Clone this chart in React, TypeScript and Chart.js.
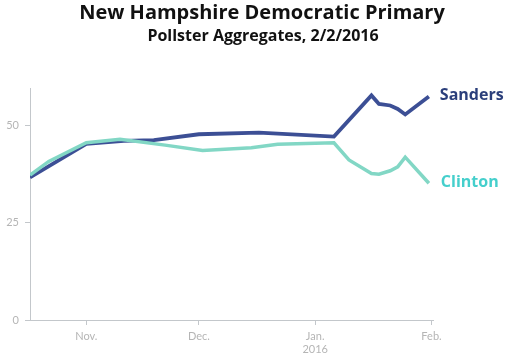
import React, { useEffect, useRef } from "react";
import { Chart, registerables } from "chart.js";

Chart.register(...registerables);

// Days counted from Oct 1, 2015 (day 0)
const sandersDays = [16, 31, 41, 49, 61, 77, 97, 107, 109, 112, 114, 116, 122.3];
const sandersValues = [36.7, 45.3, 46.1, 46.3, 47.8, 48.2, 47.2, 57.8, 55.6, 55.2, 54.3, 52.9, 57.5];

const clintonDays = [16, 21, 31, 40, 52, 62, 75, 82, 97, 101, 107, 109, 112, 114, 116, 122.3];
const clintonValues = [37.3, 40.8, 45.6, 46.5, 45.0, 43.6, 44.3, 45.2, 45.6, 41.2, 37.7, 37.5, 38.4, 39.4, 41.9, 35.2];

const xTickDays = [31, 61, 92, 123];
const xTickLabels: (string | string[])[] = ["Nov.", "Dec.", ["Jan.", "2016"], "Feb."];
const yTickValues = [0, 25, 50];

const titleText = "New Hampshire Democratic Primary";
const subtitleText = "Pollster Aggregates, 2/2/2016";

const SANDERS_LINE = "#3c4f95";
const CLINTON_LINE = "#82d7c5";
const SANDERS_TEXT = "#2b3f7b";
const CLINTON_TEXT = "#45cfcc";

export default function App() {
  const canvasRef = useRef<HTMLCanvasElement | null>(null);

  useEffect(() => {
    document.body.style.margin = "0";
    const canvas = canvasRef.current;
    if (!canvas) return;

    const textPlugin = {
      id: "texts",
      afterDraw(chart: any) {
        const ctx = chart.ctx;
        ctx.save();
        ctx.textAlign = "center";
        ctx.textBaseline = "middle";
        ctx.fillStyle = "#111";
        ctx.font = "bold 20px 'Open Sans'";
        ctx.fillText(titleText, 262, 13);
        ctx.font = "bold 16px 'Open Sans'";
        ctx.fillText(subtitleText, 263, 36);

        const xs = chart.scales.x;
        const ys = chart.scales.y;
        ctx.textAlign = "left";
        ctx.font = "bold 16px 'Open Sans'";
        ctx.fillStyle = SANDERS_TEXT;
        const sx = xs.getPixelForValue(sandersDays[sandersDays.length - 1]);
        const sy = ys.getPixelForValue(sandersValues[sandersValues.length - 1]);
        ctx.fillText("Sanders", sx + 11, sy - 1);
        ctx.fillStyle = CLINTON_TEXT;
        const cx = xs.getPixelForValue(clintonDays[clintonDays.length - 1]);
        const cy = ys.getPixelForValue(clintonValues[clintonValues.length - 1]);
        ctx.fillText("Clinton", cx + 12, cy - 1);
        ctx.restore();
      },
    };

    const chart = new Chart(canvas, {
      type: "line",
      data: {
        datasets: [
          {
            label: "Clinton",
            data: clintonDays.map((d, i) => ({ x: d, y: clintonValues[i] })),
            borderColor: CLINTON_LINE,
            borderWidth: 3.5,
            pointRadius: 0,
            tension: 0,
          },
          {
            label: "Sanders",
            data: sandersDays.map((d, i) => ({ x: d, y: sandersValues[i] })),
            borderColor: SANDERS_LINE,
            borderWidth: 3.8,
            pointRadius: 0,
            tension: 0,
          },
        ],
      },
      options: {
        responsive: false,
        animation: false,
        layout: { padding: { left: 0, right: 77, top: 88, bottom: 0 } },
        plugins: {
          legend: { display: false },
          tooltip: { enabled: false },
          title: { display: false },
        },
        scales: {
          x: {
            type: "linear",
            min: 16,
            max: 123.4,
            afterFit: (s: any) => {
              s.height = 42;
            },
            afterBuildTicks: (s: any) => {
              s.ticks = xTickDays.map((v) => ({ value: v }));
            },
            border: { display: true, color: "#c3c7cb", width: 1 },
            grid: {
              drawOnChartArea: false,
              drawTicks: true,
              tickLength: 5,
              color: "#c3c7cb",
            },
            ticks: {
              autoSkip: false,
              maxRotation: 0,
              padding: 5,
              color: "#b5b5b5",
              font: { family: "Lato", size: 11 },
              callback: (v: any) => {
                const i = xTickDays.indexOf(Number(v));
                return i >= 0 ? xTickLabels[i] : "";
              },
            },
          },
          y: {
            min: 0,
            max: 59.7,
            afterFit: (s: any) => {
              s.width = 30;
            },
            afterBuildTicks: (s: any) => {
              s.ticks = yTickValues.map((v) => ({ value: v }));
            },
            border: { display: true, color: "#c3c7cb", width: 1 },
            grid: {
              drawOnChartArea: false,
              drawTicks: true,
              tickLength: 5,
              color: "#c3c7cb",
            },
            ticks: {
              padding: 6,
              color: "#b5b5b5",
              font: { family: "Lato", size: 11 },
            },
          },
        },
      },
      plugins: [textPlugin],
    } as any);

    return () => chart.destroy();
  }, []);

  return (
    <div style={{ position: "absolute", left: 0, top: 0, width: 510, height: 362, background: "#fff" }}>
      <canvas ref={canvasRef} width={510} height={362} />
    </div>
  );
}
